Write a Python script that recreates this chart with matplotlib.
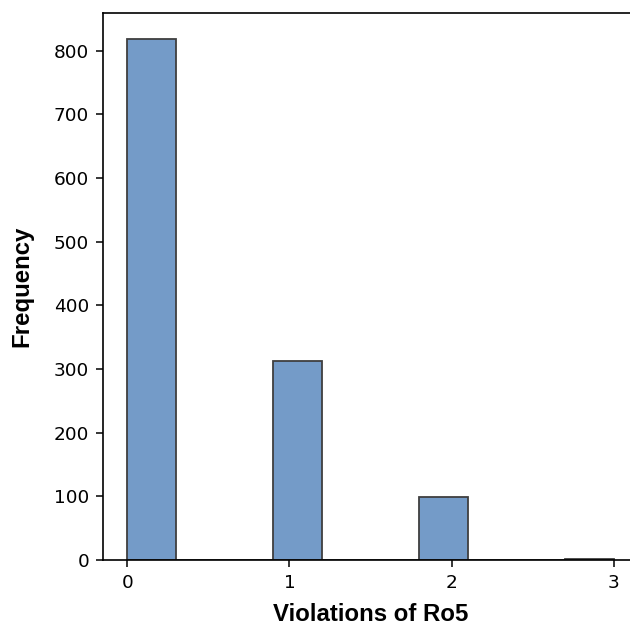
import numpy as np
import matplotlib
matplotlib.use('Agg')
import matplotlib.pyplot as plt

# Histogram of Ro5 violations (10 bins over 0..3)
bin_edges = np.linspace(0, 3, 11)
counts = [818, 0, 0, 313, 0, 0, 99, 0, 0, 1]

fig = plt.figure(figsize=(6.3, 6.26), dpi=100)
ax = fig.add_axes([0.1635, 0.1054, 0.8492, 0.8738])

widths = np.diff(bin_edges)
ax.bar(bin_edges[:-1], counts, width=widths, align='edge',
       color='#749bc8', edgecolor='#3f3f3f', linewidth=1.3)

ax.set_xlim(-0.15, 3.15)
ax.set_ylim(0, 818 * 1.05)
ax.set_xticks([0, 1, 2, 3])
ax.set_yticks(range(0, 801, 100))
ax.tick_params(labelsize=13.3, length=5, width=1.1, pad=5)

for s in ax.spines.values():
    s.set_linewidth(1.2)

lab_font = dict(family=['Liberation Sans', 'DejaVu Sans'], weight='bold', size=17.3)
ax.set_xlabel('Violations of Ro5', labelpad=8, **lab_font)
ax.set_ylabel('Frequency', labelpad=15, **lab_font)

fig.savefig('out.png', dpi=100)
